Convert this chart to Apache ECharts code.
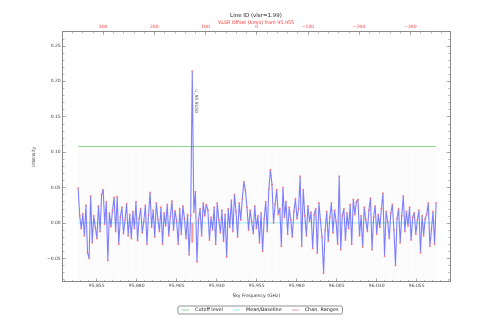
<!DOCTYPE html>
<html><head><meta charset="utf-8">
<script src="https://cdn.jsdelivr.net/npm/echarts@6/dist/echarts.min.js"></script>
<style>html,body{margin:0;padding:0;background:#fff}#c{width:498px;height:332px}</style>
</head><body><div id="c"></div>
<script>
// ---- data ----
const freqStart = 95.8434;      // GHz, first channel
const chanWidth = 0.000977;     // GHz per channel
const intensity = [
 0.049, 0.010,-0.008, 0.013,-0.018, 0.025,-0.042,-0.050, 0.038,-0.028,
 0.010,-0.006,-0.022, 0.024,-0.012, 0.040, 0.047,-0.002, 0.030,-0.053,
 0.014,-0.005, 0.018, 0.036,-0.012, 0.037,-0.030, 0.008, 0.022,-0.015,
 0.004, 0.027,-0.018, 0.012,-0.022, 0.016,-0.008, 0.030,-0.025, 0.006,
 0.020,-0.014, 0.002, 0.025,-0.030, 0.011, 0.043,-0.006, 0.018,-0.020,
 0.028, 0.005,-0.012, 0.022,-0.030, 0.014,-0.004, 0.026,-0.018, 0.009,
 0.031,-0.010, 0.017, 0.003,-0.030, 0.020,-0.016, 0.024, 0.006,-0.022,
 0.012,-0.045, 0.010, 0.214, 0.015, 0.044,-0.055, 0.004, 0.020,-0.018,
 0.028, 0.010, 0.026, 0.018,-0.024, 0.008,-0.010, 0.022,-0.030, 0.028,
 0.004,-0.014, 0.018,-0.026, 0.012,-0.048, 0.020,-0.006, 0.032,-0.012,
 0.040, 0.016,-0.020, 0.028, 0.004, 0.034, 0.058, 0.046, 0.022,-0.010,
 0.018, 0.002,-0.015, 0.024,-0.008, 0.010,-0.028, 0.014,-0.040, 0.006,
 0.030,-0.012, 0.048, 0.075, 0.054, 0.000, 0.026, 0.047, 0.012, 0.020,
-0.033, 0.050, 0.008, 0.030,-0.016, 0.022, 0.004,-0.020, 0.016, 0.034,
 0.006, 0.020, 0.066,-0.033, 0.047, 0.010,-0.018, 0.024, 0.002, 0.015,
-0.036, 0.012, 0.020,-0.043, 0.028, 0.004,-0.020,-0.071,-0.010, 0.016,
-0.026, 0.008, 0.028,-0.014, 0.018, 0.002,-0.030, 0.066,-0.038, 0.010,
 0.020,-0.024, 0.014,-0.008, 0.026,-0.030, 0.033, 0.012, 0.030, 0.033,
-0.018, 0.010,-0.034, 0.022, 0.004,-0.012, 0.018, 0.035,-0.038, 0.008,
 0.024,-0.016, 0.012,-0.006, 0.020, 0.042,-0.047, 0.016, 0.002,-0.022,
 0.014, 0.026,-0.010,-0.060, 0.006, 0.020,-0.028, 0.010, 0.038,-0.012,
 0.016,-0.004, 0.022,-0.024, 0.008, 0.014,-0.016, 0.004, 0.018,-0.042,
 0.010,-0.018, 0.006, 0.012, 0.028,-0.033,-0.010, 0.016,-0.030, 0.028
];
const cutoffLevel = 0.108;
const baselineLevel = 0.0;
const lineChannel = 73;          // channel of the identified line
const lineLabel = 'U_95.9150';
const chanRangeLow = -0.028;
const restFreq = 95.955;
const vlsr = 1.99;
const freqTicks = [95.855, 95.880, 95.905, 95.930, 95.955, 95.980, 96.005, 96.030, 96.055];
const velTicks = [300, 200, 100, 0, -100, -200, -300];
const yTicks = [-0.05, 0.00, 0.05, 0.10, 0.15, 0.20, 0.25];
const xMin = 95.83375, xMax = 96.0758, yMin = -0.083, yMax = 0.270;

// ---- derived ----
const C = 299792.458;
const freqs = intensity.map((_, i) => freqStart + i * chanWidth);
const spec = intensity.map((v, i) => [freqs[i], v]);
const fFirst = freqs[0], fLast = freqs[freqs.length - 1];
const vel = f => C * (restFreq - f) / restFreq;
const rng = (a, b, s) => { const o = []; for (let k = 0; a + k * s <= b + 1e-9; k++) o.push(+(a + k * s).toFixed(6)); return o; };
const freqMinor = rng(95.835, 96.075, 0.005);
const velMinor = rng(-360, 360, 20);
const yMinor = rng(-0.08, 0.27, 0.01);
const minus = s => String(s).replace('-', '\u2212');
const FONT = 'DejaVu Sans';
const AX = '#8a8a8a';

function xAx(pos, min, max, ticks, len, labels, extra) {
  return Object.assign({
    type: 'value', position: pos, min, max, scale: true,
    axisLine: { show: true, onZero: false, lineStyle: { color: AX, width: 1 } },
    axisTick: { show: true, inside: true, length: len, customValues: ticks, lineStyle: { color: AX, width: 0.6 } },
    axisLabel: labels ? Object.assign({ show: true, customValues: ticks, fontSize: 4.5, fontFamily: FONT, margin: 2 }, labels) : { show: false },
    splitLine: { show: false }, minorTick: { show: false }
  }, extra || {});
}
function yAx(pos, ticks, len, showLine, extra) {
  return Object.assign({
    type: 'value', position: pos, min: yMin, max: yMax, scale: true,
    axisLine: { show: showLine, onZero: false, lineStyle: { color: AX, width: 1 } },
    axisTick: { show: true, inside: true, length: len, customValues: ticks, lineStyle: { color: AX, width: 0.6 } },
    axisLabel: { show: false }, splitLine: { show: false }
  }, extra || {});
}

const option = {
  animation: false,
  backgroundColor: '#fff',
  title: {
    text: 'Line ID (vlsr=' + vlsr + ')',
    subtext: 'VLSR Offset (km/s) from ' + restFreq,
    left: 256, top: 13, textAlign: 'center', itemGap: 1, padding: 0,
    textStyle: { fontSize: 5.5, fontWeight: 'normal', color: '#222', fontFamily: FONT },
    subtextStyle: { fontSize: 4.8, color: '#ff3333', fontFamily: FONT }
  },
  legend: {
    left: 178, top: 306, width: 160,
    padding: [1.5, 4, 1.5, 4], itemGap: 10,
    borderColor: '#666', borderWidth: 0.7, borderRadius: 1.5,
    icon: 'rect', itemWidth: 7, itemHeight: 1, selectedMode: false,
    textStyle: { fontSize: 4.9, fontFamily: FONT, color: '#222', padding: [0, 0, 0, 1] },
    data: [
      { name: 'Cutoff level', itemStyle: { color: '#8dd38d' } },
      { name: 'Mean/Baseline', itemStyle: { color: '#9be9ef' } },
      { name: 'Chan. Ranges', itemStyle: { color: '#f39a9a' } }
    ]
  },
  grid: { left: 62.7, right: 48, top: 31.7, bottom: 50.3, containLabel: false },
  xAxis: [
    xAx('bottom', xMin, xMax, freqTicks, 3.5,
      { color: '#444', formatter: v => v.toFixed(3) },
      { name: 'Sky Frequency (GHz)', nameLocation: 'middle', nameGap: 8,
        nameTextStyle: { fontSize: 4.6, fontFamily: FONT, color: '#333' } }),
    xAx('top', vel(xMax), vel(xMin), velTicks, 3.5,
      { color: '#ff4444', formatter: v => minus(v) }, { inverse: true }),
    xAx('bottom', xMin, xMax, freqMinor, 1.8, null),
    xAx('top', vel(xMax), vel(xMin), velMinor, 1.8, null, { inverse: true })
  ],
  yAxis: [
    yAx('left', yTicks, 3.5, true, {
      name: 'Intensity', nameLocation: 'middle', nameRotate: 90, nameGap: 17,
      nameTextStyle: { fontSize: 4.6, fontFamily: FONT, color: '#333' },
      axisLabel: { show: true, customValues: yTicks, fontSize: 4.5, fontFamily: FONT, color: '#444', margin: 2,
        formatter: v => minus(v.toFixed(2)) }
    }),
    yAx('left', yMinor, 1.8, false),
    yAx('right', yTicks, 3.5, true),
    yAx('right', yMinor, 1.8, false)
  ],
  series: [
    {
      type: 'custom', name: 'stripes', silent: true, z: 1,
      data: freqs.map(f => [f]),
      renderItem: (params, api) => {
        const p0 = api.coord([api.value(0), yMin]);
        const p1 = api.coord([api.value(0), cutoffLevel]);
        return { type: 'line', shape: { x1: p0[0], y1: p0[1], x2: p1[0], y2: p1[1] },
          style: { stroke: 'rgba(0,0,0,0.045)', lineWidth: 0.6 } };
      }
    },
    { type: 'line', name: 'Cutoff level', z: 3, symbol: 'none', silent: true,
      data: [[fFirst, cutoffLevel], [fLast, cutoffLevel]],
      lineStyle: { color: '#8dd38d', width: 1 } },
    { type: 'line', name: 'Mean/Baseline', z: 3, symbol: 'none', silent: true,
      data: [[fFirst, baselineLevel], [fLast, baselineLevel]],
      lineStyle: { color: '#9be9ef', width: 1 } },
    { type: 'line', name: 'Chan. Ranges', z: 4, symbol: 'none', silent: true,
      data: [[freqs[lineChannel], baselineLevel], [freqs[lineChannel], chanRangeLow]],
      lineStyle: { color: 'rgba(245,110,110,0.7)', width: 2 } },
    { type: 'line', name: 'Spectrum', z: 5, silent: true,
      data: spec, showSymbol: true, symbol: 'circle', symbolSize: 2,
      lineStyle: { color: 'rgba(60,60,255,0.65)', width: 1.1 },
      itemStyle: { color: 'rgba(255,110,110,0.8)', borderWidth: 0 } },
    { type: 'scatter', name: 'label', z: 6, silent: true, symbolSize: 0,
      data: [[freqs[lineChannel], 0.172]],
      label: { show: true, formatter: lineLabel, rotate: -90, position: 'inside', offset: [0, -4],
        fontSize: 4.4, fontFamily: FONT, color: '#333' } }
  ]
};
const chart = echarts.init(document.getElementById('c'), null, { renderer: 'canvas' });
chart.setOption(option);
</script></body></html>
